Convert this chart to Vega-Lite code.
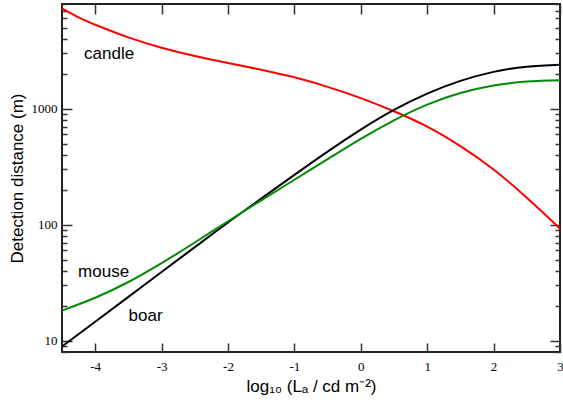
{
  "$schema": "https://vega.github.io/schema/vega-lite/v6.json",
  "width": 498,
  "height": 348,
  "autosize": {"type": "none"},
  "padding": {"left": 62, "top": 4, "right": 3, "bottom": 51},
  "config": {
    "view": {"stroke": "#222222", "strokeWidth": 2},
    "axis": {
      "domain": false,
      "grid": false,
      "tickColor": "#333333",
      "tickWidth": 1.5,
      "labelFont": "Liberation Serif",
      "labelFontSize": 13,
      "labelColor": "#000000",
      "titleFont": "Liberation Sans",
      "titleFontSize": 17,
      "titleFontWeight": "normal",
      "titleColor": "#000000"
    }
  },
  "data": {
    "values": [
      {"s": "candle", "x": -4.5, "d": 7328},
      {"s": "candle", "x": -4.25, "d": 6124},
      {"s": "candle", "x": -4.0, "d": 5297},
      {"s": "candle", "x": -3.5, "d": 4121},
      {"s": "candle", "x": -3.0, "d": 3357},
      {"s": "candle", "x": -2.5, "d": 2851},
      {"s": "candle", "x": -2.0, "d": 2483},
      {"s": "candle", "x": -1.5, "d": 2173},
      {"s": "candle", "x": -1.0, "d": 1866},
      {"s": "candle", "x": -0.5, "d": 1545},
      {"s": "candle", "x": 0.0, "d": 1236},
      {"s": "candle", "x": 0.5, "d": 951},
      {"s": "candle", "x": 1.0, "d": 701},
      {"s": "candle", "x": 1.5, "d": 476},
      {"s": "candle", "x": 2.0, "d": 299},
      {"s": "candle", "x": 2.5, "d": 171},
      {"s": "candle", "x": 3.0, "d": 92.7},
      {"s": "boar", "x": -4.5, "d": 8.93},
      {"s": "boar", "x": -4.0, "d": 14.6},
      {"s": "boar", "x": -3.5, "d": 23.9},
      {"s": "boar", "x": -3.0, "d": 39.2},
      {"s": "boar", "x": -2.5, "d": 64.1},
      {"s": "boar", "x": -2.0, "d": 104.7},
      {"s": "boar", "x": -1.5, "d": 168},
      {"s": "boar", "x": -1.0, "d": 269},
      {"s": "boar", "x": -0.5, "d": 427},
      {"s": "boar", "x": 0.0, "d": 661},
      {"s": "boar", "x": 0.5, "d": 977},
      {"s": "boar", "x": 1.0, "d": 1349},
      {"s": "boar", "x": 1.5, "d": 1738},
      {"s": "boar", "x": 2.0, "d": 2080},
      {"s": "boar", "x": 2.5, "d": 2307},
      {"s": "boar", "x": 3.0, "d": 2399},
      {"s": "mouse", "x": -4.5, "d": 18.2},
      {"s": "mouse", "x": -4.0, "d": 23.5},
      {"s": "mouse", "x": -3.5, "d": 32.1},
      {"s": "mouse", "x": -3.0, "d": 46.7},
      {"s": "mouse", "x": -2.5, "d": 70.3},
      {"s": "mouse", "x": -2.0, "d": 107.2},
      {"s": "mouse", "x": -1.5, "d": 162.2},
      {"s": "mouse", "x": -1.0, "d": 244.3},
      {"s": "mouse", "x": -0.5, "d": 367.3},
      {"s": "mouse", "x": 0.0, "d": 549.5},
      {"s": "mouse", "x": 0.5, "d": 794.3},
      {"s": "mouse", "x": 1.0, "d": 1084},
      {"s": "mouse", "x": 1.5, "d": 1365},
      {"s": "mouse", "x": 2.0, "d": 1585},
      {"s": "mouse", "x": 2.5, "d": 1718},
      {"s": "mouse", "x": 3.0, "d": 1762}
    ]
  },
  "resolve": {"axis": {"x": "independent", "y": "independent"}},
  "layer": [
    {
      "mark": {"type": "line", "strokeWidth": 2, "interpolate": "natural"},
      "encoding": {
        "x": {
          "field": "x", "type": "quantitative",
          "scale": {"domain": [-4.5, 3], "nice": false, "zero": false},
          "axis": {
            "orient": "bottom",
            "values": [-4, -3, -2, -1, 0, 1, 2, 3],
            "tickSize": -9,
            "labelPadding": 17,
            "labelFlush": false,
            "labelExpr": "'' + datum.value",
            "title": "log₁₀ (Lₐ / cd m⁻²)",
            "titleX": 249,
            "titleY": 39,
            "titleBaseline": "alphabetic"
          }
        },
        "y": {
          "field": "d", "type": "quantitative",
          "scale": {"type": "log", "domain": [8, 8000], "nice": false},
          "axis": {
            "orient": "left",
            "values": [10, 100, 1000],
            "tickSize": -10,
            "labelPadding": 15,
            "labelExpr": "'' + datum.value",
            "title": "Detection distance (m)",
            "titleX": -40,
            "titleY": 174,
            "titleAngle": -90,
            "titleBaseline": "alphabetic"
          }
        },
        "color": {
          "field": "s", "type": "nominal",
          "scale": {"domain": ["candle", "boar", "mouse"], "range": ["#ff0000", "#000000", "#008c00"]},
          "legend": null
        }
      }
    },
    {
      "mark": {"type": "line", "opacity": 0},
      "encoding": {
        "x": {"field": "x", "type": "quantitative", "axis": {"orient": "top", "values": [-4, -3, -2, -1, 0, 1, 2, 3], "tickSize": -10, "labels": false, "title": null}},
        "y": {"field": "d", "type": "quantitative", "axis": {"orient": "left", "values": [8, 9, 20, 30, 40, 50, 60, 70, 80, 90, 200, 300, 400, 500, 600, 700, 800, 900, 2000, 3000, 4000, 5000, 6000, 7000, 8000], "tickSize": -5, "labels": false, "title": null}},
        "detail": {"field": "s"}
      }
    },
    {
      "mark": {"type": "line", "opacity": 0},
      "encoding": {
        "x": {"field": "x", "type": "quantitative", "axis": null},
        "y": {"field": "d", "type": "quantitative", "axis": {"orient": "right", "values": [10, 100, 1000], "tickSize": -10, "labels": false, "title": null}},
        "detail": {"field": "s"}
      }
    },
    {
      "mark": {"type": "line", "opacity": 0},
      "encoding": {
        "x": {"field": "x", "type": "quantitative", "axis": null},
        "y": {"field": "d", "type": "quantitative", "axis": {"orient": "right", "values": [8, 9, 20, 30, 40, 50, 60, 70, 80, 90, 200, 300, 400, 500, 600, 700, 800, 900, 2000, 3000, 4000, 5000, 6000, 7000, 8000], "tickSize": -5, "labels": false, "title": null}},
        "detail": {"field": "s"}
      }
    },
    {
      "data": {
        "values": [
          {"t": "candle", "x": -3.79, "d": 2967},
          {"t": "mouse", "x": -3.873, "d": 39.5},
          {"t": "boar", "x": -3.241, "d": 16.5}
        ]
      },
      "mark": {"type": "text", "font": "Liberation Sans", "fontSize": 17, "align": "center", "baseline": "middle", "color": "#000000"},
      "encoding": {
        "x": {"field": "x", "type": "quantitative", "axis": null},
        "y": {"field": "d", "type": "quantitative", "axis": null},
        "text": {"field": "t"}
      }
    }
  ]
}
